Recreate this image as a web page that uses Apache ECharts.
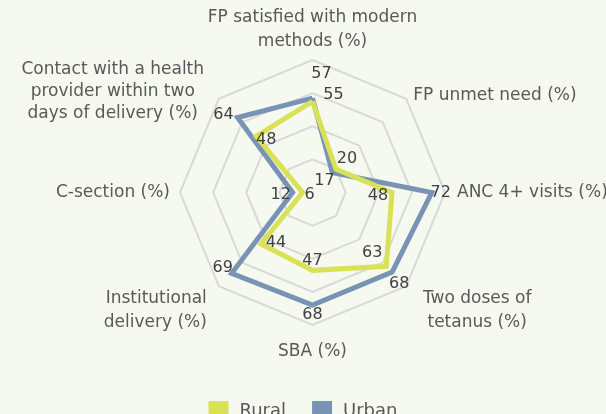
<!DOCTYPE html>
<html><head><meta charset="utf-8">
<script src="https://cdn.jsdelivr.net/npm/echarts@6/dist/echarts.min.js"></script>
<style>html,body{margin:0;padding:0;background:#F6F9F0}#c{width:606px;height:414px}</style>
</head><body><div id="c"></div>
<script>
// ---- data (clockwise from top, as in the picture) ----
const indicators = [
  'FP satisfied with modern\nmethods (%)',
  'FP unmet need (%)',
  'ANC 4+ visits (%)',
  'Two doses of\ntetanus (%)',
  'SBA (%)',
  'Institutional\ndelivery (%)',
  'C-section (%)',
  'Contact with a health\nprovider within two\ndays of delivery (%)'
];
const rural = [55, 20, 48, 63, 47, 44, 6, 48];
const urban = [57, 17, 72, 68, 68, 69, 12, 64];
const axisMax = 80;
const seriesNames = ['Rural', 'Urban'];

// ---- styles ----
const FONT = 'DejaVu Sans';
const COLORS = { Rural: '#D9E157', Urban: '#7893B4' };
// label shift from its point (px), per indicator
const labelShift = {
  Urban: [[9, -24], [-8, 8], [9, 0], [7, 12], [0, 10], [-9, -5], [-12, 2], [-14, -3]],
  Rural: [[21, -7], [11, -10], [-14, 3], [-14, -13], [0, -10], [15, -1], [7, 2], [10, 4]]
};
const nameStyleOverride = {
  0: { nameGap: 6 },
  1: { nameTextStyle: { verticalAlign: 'top', lineHeight: 8 } },
  2: { nameGap: 12 },
  3: { nameGap: 0, nameTextStyle: { align: 'center', verticalAlign: 'top', padding: [0, 0, 0, 142] } },
  4: { nameGap: 15 },
  5: { nameGap: 0, nameTextStyle: { verticalAlign: 'top', padding: [0, 12, 0, 0] } },
  7: { nameTextStyle: { verticalAlign: 'middle', align: 'center', lineHeight: 22, padding: [0, 198, 0, 0] } }
};

// ECharts radar runs counter-clockwise: reorder to get clockwise layout
const order = [0, 7, 6, 5, 4, 3, 2, 1];
const reorder = a => order.map(i => a[i]);

const indicatorOpt = order.map(i => Object.assign(
  { name: indicators[i], min: 0, max: axisMax },
  nameStyleOverride[i] || {}
));

function mainSeries(name, vals) {
  return {
    type: 'radar', name: name, symbol: 'none', silent: true,
    color: COLORS[name],
    itemStyle: { color: COLORS[name] },
    lineStyle: { color: COLORS[name], width: 5, join: 'miter' },
    data: [{ value: reorder(vals), name: name }]
  };
}

function labelSeries(name, vals) {
  return vals.map((v, k) => ({
    type: 'radar', name: name + '_lbl_' + k, silent: true, z: 5,
    symbol: 'circle', symbolSize: 2,
    itemStyle: { color: 'transparent' },
    lineStyle: { width: 0, opacity: 0 },
    data: [{ value: reorder(vals), name: name + '_lbl_' + k }],
    label: {
      show: true, position: 'inside', offset: labelShift[name][k],
      color: '#404040', fontSize: 16, fontFamily: FONT,
      formatter: prm => order[prm.dimensionIndex] === k ? String(vals[k]) : ''
    }
  }));
}

const chart = echarts.init(document.getElementById('c'), null, { renderer: 'canvas' });
chart.setOption({
  backgroundColor: '#F6F9F0',
  animation: false,
  legend: {
    data: seriesNames, top: 396, left: 'center',
    icon: 'rect', itemWidth: 20, itemHeight: 20, itemGap: 26,
    textStyle: { color: '#595959', fontSize: 18, fontFamily: FONT, padding: [0, 0, 0, 6] }
  },
  radar: {
    center: [312.5, 192.5], radius: 132.5,
    shape: 'polygon', splitNumber: 4, startAngle: 90,
    indicator: indicatorOpt,
    nameGap: 10,
    axisName: { color: '#595959', fontSize: 17, fontFamily: FONT, lineHeight: 24 },
    axisLine: { show: false },
    axisTick: { show: false },
    axisLabel: { show: false },
    splitArea: { show: false },
    splitLine: { lineStyle: { color: '#D9D9D9', width: 2 } }
  },
  series: [mainSeries('Urban', urban), mainSeries('Rural', rural)]
    .concat(labelSeries('Urban', urban), labelSeries('Rural', rural))
});
</script>
</body></html>
